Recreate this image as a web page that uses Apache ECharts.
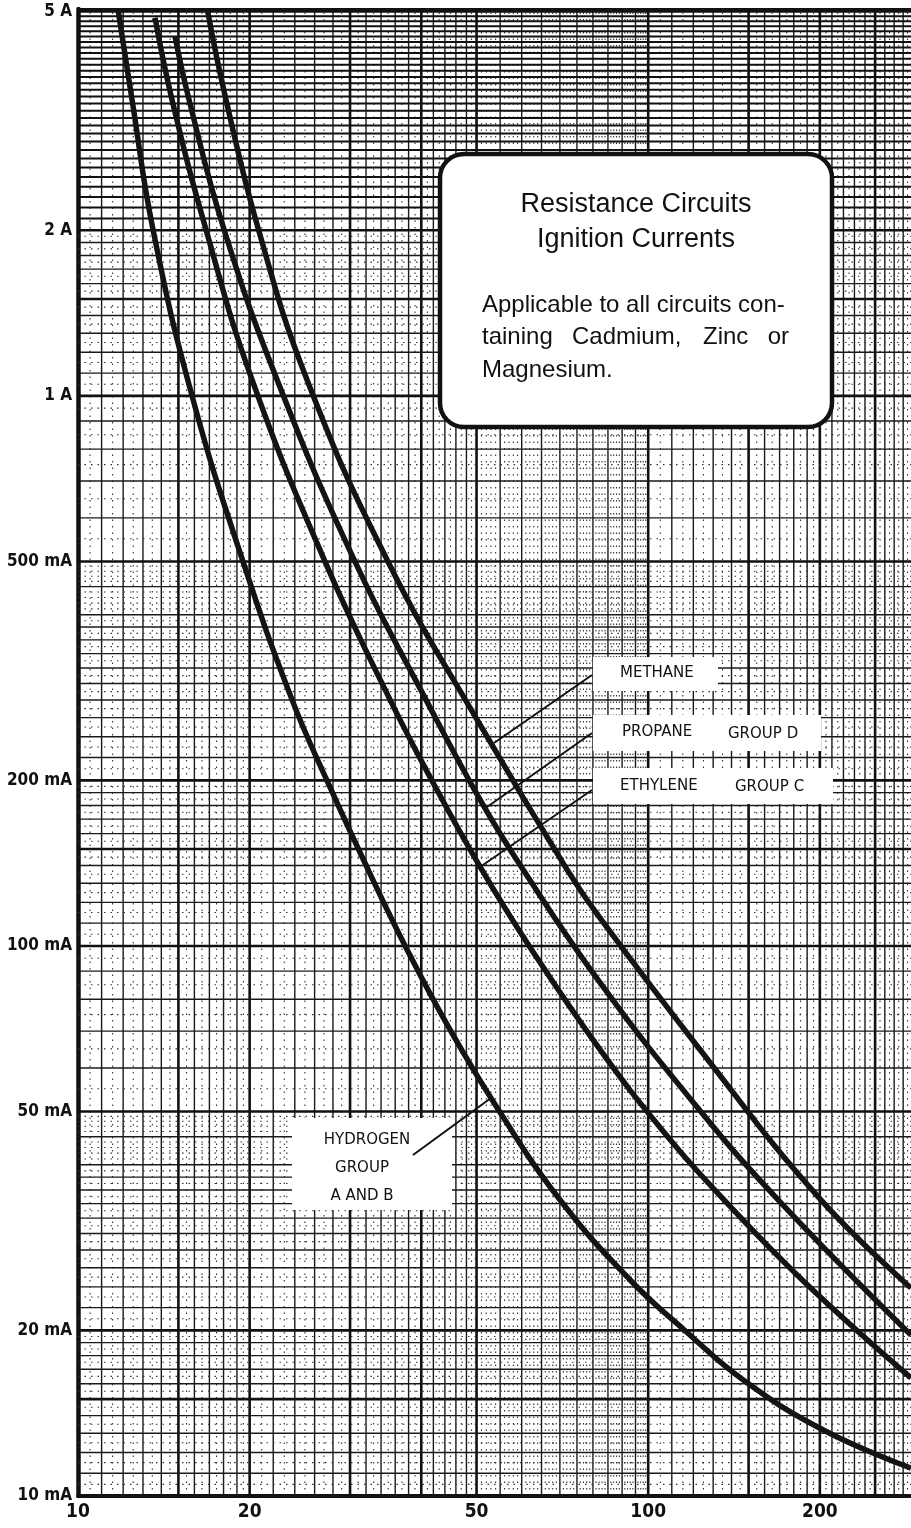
<!DOCTYPE html>
<html><head><meta charset="utf-8">
<script src="https://cdn.jsdelivr.net/npm/echarts@6/dist/echarts.min.js"></script>
<style>html,body{margin:0;padding:0;background:#fff}#c{width:911px;height:1528px}</style>
</head><body><div id="c"></div><script>
// ---- axis ranges & ticks ----
const X_MIN = 10, X_MAX = 289, Y_MIN = 10, Y_MAX = 5050;
const xTickValues = [10, 20, 50, 100, 200];
const xTickLabels = ['10', '20', '50', '100', '200'];
const yTickValues = [10, 20, 50, 100, 200, 500, 1000, 2000, 5000];
const yTickLabels = ['10 mA', '20 mA', '50 mA', '100 mA', '200 mA', '500 mA', '1 A', '2 A', '5 A'];

// ---- curves (x: circuit value, y: ignition current in mA) ----
const hydrogenX = [11.75, 12.44, 13.54, 15.85, 19.48, 23.74, 27.35, 32.28, 37.48, 44.94, 54.79, 70.07, 92.98, 115.7, 146.8, 202.8, 289];
const hydrogenY = [5050, 3453, 2004, 1000, 499, 280.1, 199.5, 137.5, 100, 70.35, 50.1, 34.53, 24.7, 20.04, 16.25, 13.18, 11.24];
const ethyleneX = [13.65, 14.62, 16.77, 20.2, 27.13, 35.27, 41.79, 50.73, 61.83, 82.39, 105.8, 134.3, 186.3, 289];
const ethyleneY = [4867, 3453, 2004, 1069, 499, 280.1, 199.5, 139.2, 100, 64.7, 46.3, 34.98, 24.7, 16.39];
const propaneX = [14.8, 15.66, 18.04, 22.35, 30.62, 40.78, 50.73, 60.36, 82.39, 119, 167.1, 289];
const propaneY = [4495, 3453, 2004, 1069, 499, 280.1, 184.3, 137.5, 85.64, 52.48, 34.98, 19.62];
const methaneX = [16.85, 18.18, 20.73, 25.22, 34.99, 50.73, 72.1, 82.04, 123.4, 198.7, 289];
const methaneY = [5050, 3453, 2004, 1069, 499, 252.2, 137.5, 112.9, 64.7, 34.98, 23.88];

// ---- graph paper rulings: [start, end, step, kind] kind 0=dotted 1=solid 3=solid (dense band) ----
const xRulings = [[10, 20, 1, 1], [10.5, 19.5, 1, 0], [20, 50, 2, 1], [21, 49, 2, 0], [50, 100, 5, 1], [51, 99, 1, 0], [100, 289, 10, 1], [105, 285, 10, 0]];
const xHeavy = [10, 15, 20, 30, 40, 50, 100, 150, 200, 250];
const yRulings = [[10, 20, 1, 1], [10.5, 19.5, 1, 0], [20, 40, 2, 1], [21, 39, 2, 0], [40, 50, 5, 1], [41, 49, 1, 0], [50, 100, 10, 1], [55, 95, 5, 0],
                  [100, 200, 10, 1], [105, 195, 10, 0], [200, 400, 20, 1], [210, 390, 20, 0], [400, 500, 50, 1], [410, 490, 10, 0], [500, 1000, 100, 1], [550, 950, 50, 0],
                  [1000, 2000, 100, 1], [1050, 1950, 100, 0], [2000, 5050, 100, 3]];
const yHeavy = [10, 15, 20, 50, 100, 150, 200, 500, 1000, 1500, 2000, 5000];

function buildRulings(rules, heavy, lo, hi) {
  const map = new Map();
  rules.forEach(([s, e, st, k]) => {
    const n = Math.round((e - s) / st);
    for (let i = 0; i <= n; i++) {
      const v = +(s + i * st).toFixed(4);
      if (v < lo - 1e-9 || v > hi + 1e-9) continue;
      const prev = map.get(v);
      if (prev === undefined || prev < k) map.set(v, k);
    }
  });
  heavy.forEach(v => { if (v >= lo && v <= hi) map.set(v, 2); });
  return Array.from(map.entries());
}
const xLines = buildRulings(xRulings, xHeavy, X_MIN, X_MAX).map(([v, k]) => [v, Y_MIN, k]);
const yLines = buildRulings(yRulings, yHeavy, Y_MIN, Y_MAX).map(([v, k]) => [X_MIN, v, k]);

const RULE_STYLES = [
  { stroke: '#333', lineWidth: 1.1, lineDash: [1.5, 5] },
  { stroke: '#1a1a1a', lineWidth: 1.4 },
  { stroke: '#111', lineWidth: 2.6 },
  { stroke: '#111', lineWidth: 2.0 }
];
function vRender(params, api) {
  const v = api.value(0), k = api.value(2);
  const a = api.coord([v, Y_MIN]), b = api.coord([v, Y_MAX]);
  return { type: 'line', shape: { x1: a[0], y1: a[1], x2: b[0], y2: b[1] }, style: RULE_STYLES[k] };
}
function hRender(params, api) {
  const v = api.value(1), k = api.value(2);
  const a = api.coord([X_MIN, v]), b = api.coord([X_MAX, v]);
  return { type: 'line', shape: { x1: a[0], y1: a[1], x2: b[0], y2: b[1] }, style: RULE_STYLES[k] };
}
function pairs(xs, ys) { return xs.map((x, i) => [x, ys[i]]); }
function pick(vals, labels, v) {
  let bi = 0, bd = Infinity;
  vals.forEach((t, i) => { const d = Math.abs(Math.log(t) - Math.log(v)); if (d < bd) { bd = d; bi = i; } });
  return labels[bi];
}
const LABEL_FONT = "'Liberation Sans Narrow','DejaVu Sans Condensed','Roboto Condensed','Liberation Sans',sans-serif";
const TAG_FONT = "'DejaVu Sans',sans-serif";
const BOX_FONT = '"Liberation Sans",Arial,sans-serif';
const curveStyle = { width: 5.5, color: '#141414' };
function curve(name, xs, ys) {
  return { name, type: 'line', data: pairs(xs, ys), smooth: 0.45, showSymbol: false, symbol: 'none', clip: true, z: 5,
    lineStyle: curveStyle, silent: true };
}
function tag(x, y, text, align) {
  return { type: 'text', x, y, style: { text, font: '15px ' + TAG_FONT, fill: '#111', textAlign: align || 'left', textVerticalAlign: 'middle' }, z: 60 };
}
function boxText(x, y, text, size, align) {
  return { type: 'text', x, y, style: { text, font: size + 'px ' + BOX_FONT, fill: '#111', textAlign: align || 'left', textVerticalAlign: 'middle' }, z: 71 };
}
function lead(x1, y1, x2, y2) {
  return { type: 'line', shape: { x1, y1, x2, y2 }, style: { stroke: '#111', lineWidth: 2 }, z: 55 };
}

const chart = echarts.init(document.getElementById('c'), null, { renderer: 'canvas' });
chart.setOption({
  animation: false,
  backgroundColor: '#fff',
  grid: { left: 78, right: 0, top: 9, bottom: 32, containLabel: false },
  xAxis: {
    type: 'log', logBase: 10, min: X_MIN, max: X_MAX,
    axisLine: { show: true, onZero: false, lineStyle: { color: '#111', width: 4 } },
    axisTick: { show: false }, splitLine: { show: false },
    axisLabel: { customValues: xTickValues, formatter: v => pick(xTickValues, xTickLabels, v), color: '#111',
      fontFamily: LABEL_FONT, fontWeight: 'bold', fontSize: 19, margin: 7 }
  },
  yAxis: {
    type: 'log', logBase: 10, min: Y_MIN, max: Y_MAX,
    axisLine: { show: true, onZero: false, lineStyle: { color: '#111', width: 4.5 } },
    axisTick: { show: false }, splitLine: { show: false },
    axisLabel: { customValues: yTickValues, formatter: v => pick(yTickValues, yTickLabels, v), color: '#111',
      fontFamily: LABEL_FONT, fontWeight: 'bold', fontSize: 17, margin: 6 }
  },
  series: [
    { type: 'custom', renderItem: vRender, data: xLines, encode: { x: 0, y: 1 }, silent: true, z: 1, clip: true },
    { type: 'custom', renderItem: hRender, data: yLines, encode: { x: 0, y: 1 }, silent: true, z: 1, clip: true },
    curve('Hydrogen', hydrogenX, hydrogenY),
    curve('Ethylene', ethyleneX, ethyleneY),
    curve('Propane', propaneX, propaneY),
    curve('Methane', methaneX, methaneY)
  ],
  graphic: [
    { type: 'line', shape: { x1: 78, y1: 9, x2: 911, y2: 9 }, style: { stroke: '#111', lineWidth: 2 }, z: 60 },
    { type: 'rect', shape: { x: 593, y: 657, width: 125, height: 34 }, style: { fill: '#fff' }, z: 50 },
    { type: 'rect', shape: { x: 593, y: 715, width: 228, height: 36 }, style: { fill: '#fff' }, z: 50 },
    { type: 'rect', shape: { x: 593, y: 768, width: 240, height: 36 }, style: { fill: '#fff' }, z: 50 },
    { type: 'rect', shape: { x: 292, y: 1118, width: 160, height: 92 }, style: { fill: '#fff' }, z: 50 },
    lead(494, 743, 592, 675), lead(487, 807, 592, 733), lead(480, 867, 592, 790), lead(413, 1155, 491, 1098),
    tag(620, 673, 'METHANE'), tag(622, 732, 'PROPANE'), tag(728, 734, 'GROUP D'),
    tag(620, 786, 'ETHYLENE'), tag(735, 787, 'GROUP C'),
    tag(367, 1140, 'HYDROGEN', 'center'), tag(362, 1168, 'GROUP', 'center'), tag(362, 1196, 'A AND B', 'center'),
    { type: 'rect', shape: { x: 440, y: 154, width: 392, height: 273, r: 24 }, style: { fill: '#fff', stroke: '#111', lineWidth: 4.5 }, z: 70 },
    boxText(636, 205, 'Resistance Circuits', 27, 'center'),
    boxText(636, 240, 'Ignition Currents', 27, 'center'),
    boxText(482, 305, 'Applicable to all circuits con-', 24),
    boxText(482, 337, 'taining', 24), boxText(572, 337, 'Cadmium,', 24), boxText(703, 337, 'Zinc', 24), boxText(789, 337, 'or', 24, 'right'),
    boxText(482, 370, 'Magnesium.', 24)
  ]
});
</script></body></html>
